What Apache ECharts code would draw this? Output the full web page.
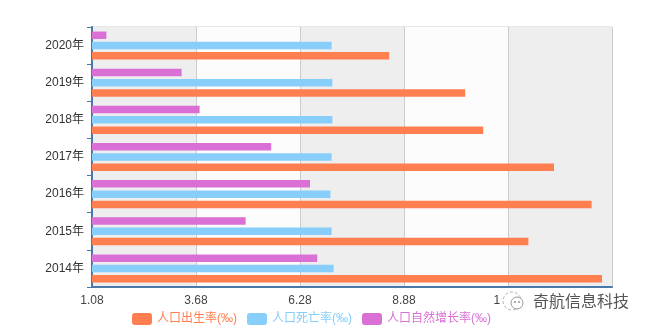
<!DOCTYPE html>
<html>
<head>
<meta charset="utf-8">
<script src="https://cdn.jsdelivr.net/npm/echarts@6/dist/echarts.min.js"></script>
<style>
  html, body { margin: 0; padding: 0; background: #ffffff; }
  #main { width: 652px; height: 331px; }
</style>
</head>
<body>
<div id="main"></div>
<script>
// Population rates per year (‰)
const years = ['2014年', '2015年', '2016年', '2017年', '2018年', '2019年', '2020年'];
const birthRate = [13.83, 11.99, 13.57, 12.63, 10.86, 10.41, 8.51];
const deathRate = [7.12, 7.07, 7.04, 7.07, 7.09, 7.09, 7.07];
const growthRate = [6.71, 4.92, 6.53, 5.56, 3.77, 3.32, 1.44];
const xTicks = [1.08, 3.68, 6.28, 8.88, 11.48, 14.08];
const seriesNames = ['人口出生率(‰)', '人口死亡率(‰)', '人口自然增长率(‰)'];
const seriesColors = ['#ff7f50', '#87cefa', '#da70d6'];

const FONT = 'Arial, "Liberation Sans", "Noto Sans CJK SC", sans-serif';
const AXIS_BLUE = '#4a78aa';
const tickStep = Math.round((xTicks[1] - xTicks[0]) * 100) / 100;

const chart = echarts.init(document.getElementById('main'), null, { renderer: 'canvas' });

const seriesData = [birthRate, deathRate, growthRate];

// Bars stack top-to-bottom in series order, so the growth rate goes first
// (top of each group) and the birth rate last (bottom of each group).
const drawOrder = [2, 1, 0];

chart.setOption({
  animation: false,
  backgroundColor: '#ffffff',
  textStyle: { fontFamily: FONT },
  grid: {
    left: 92, right: 40, top: 27, bottom: 44,
    show: true, borderColor: '#cccccc', borderWidth: 1,
    backgroundColor: 'transparent'
  },
  legend: {
    left: 132, top: 313, padding: 0,
    itemWidth: 20, itemHeight: 12, itemGap: 10,
    icon: 'roundRect',
    textStyle: { fontSize: 12, fontFamily: FONT },
    data: seriesNames.map((n, i) => ({ name: n, textStyle: { color: seriesColors[i] } }))
  },
  xAxis: {
    type: 'value',
    min: xTicks[0],
    max: xTicks[xTicks.length - 1],
    interval: tickStep,
    axisLine: { show: true, lineStyle: { color: AXIS_BLUE, width: 2 } },
    axisTick: { show: false },
    axisLabel: {
      color: '#444', fontSize: 12, margin: 8, fontFamily: FONT,
      formatter: v => v.toFixed(2)
    },
    splitLine: { show: true, lineStyle: { color: '#cccccc', width: 1 } },
    splitArea: { show: true, areaStyle: { color: ['#eeeeee', '#fcfcfc'] } }
  },
  yAxis: {
    type: 'category',
    data: years,
    axisLine: { show: true, lineStyle: { color: AXIS_BLUE, width: 2 } },
    axisTick: { show: true, length: 5, lineStyle: { color: AXIS_BLUE, width: 1 } },
    axisLabel: { color: '#333', fontSize: 12, margin: 8, fontFamily: FONT },
    splitLine: { show: true, lineStyle: { color: '#cccccc', width: 1 } }
  },
  series: drawOrder.map(i => ({
    name: seriesNames[i],
    type: 'bar',
    barWidth: 7.5,
    barGap: '37%',
    itemStyle: { color: seriesColors[i] },
    data: seriesData[i]
  })),
  graphic: [
    {
      type: 'group',
      left: 500, top: 291,
      z: 200,
      children: [
        { type: 'rect', z: 200, shape: { x: 0, y: 0, width: 140, height: 20 }, style: { fill: '#ffffff' } },
        { type: 'circle', z: 201, shape: { cx: 12, cy: 10, r: 9 }, style: { fill: '#ffffff', stroke: '#b0b0b0', lineWidth: 1, lineDash: [3, 2] } },
        { type: 'circle', z: 202, shape: { cx: 17, cy: 12, r: 6 }, style: { fill: '#ffffff', stroke: '#9a9a9a', lineWidth: 1 } },
        { type: 'circle', z: 203, shape: { cx: 15, cy: 11, r: 0.9 }, style: { fill: '#888' } },
        { type: 'circle', z: 203, shape: { cx: 19, cy: 11, r: 0.9 }, style: { fill: '#888' } },
        {
          type: 'text', z: 203, x: 33, y: 10,
          style: {
            text: '奇航信息科技', fill: '#555555',
            font: '16px "Noto Sans CJK SC", sans-serif',
            verticalAlign: 'middle', align: 'left'
          }
        }
      ]
    }
  ]
});
</script>
</body>
</html>
